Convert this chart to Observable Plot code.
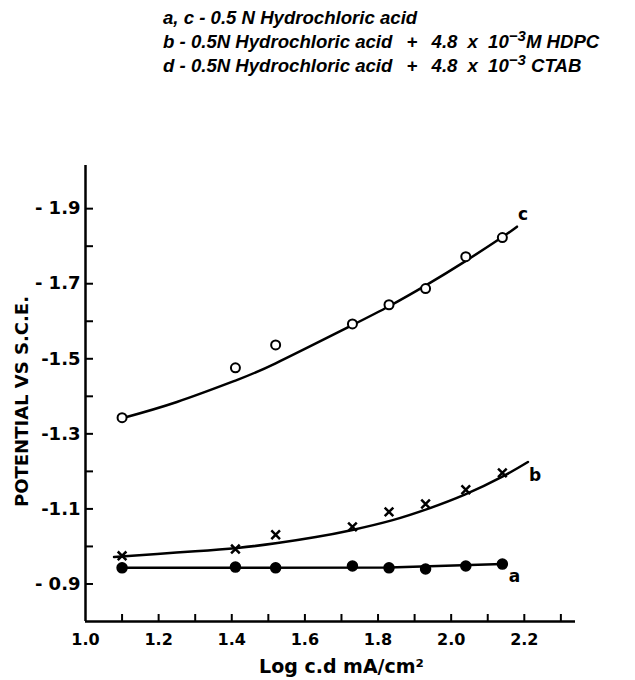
<!DOCTYPE html>
<html><head><meta charset="utf-8">
<script src="https://cdn.jsdelivr.net/npm/d3@7"></script>
<script src="https://cdn.jsdelivr.net/npm/@observablehq/plot@0.6"></script>
<style>
body{margin:0;background:#fff;width:635px;height:680px;overflow:hidden;font-family:"Liberation Sans",Arial,sans-serif;}
#header{height:90px;box-sizing:border-box;padding:6px 0 0 163px;font-style:italic;font-weight:bold;font-size:18.6px;line-height:24px;color:#000;white-space:nowrap;}
#header sup{font-size:15px;line-height:0;vertical-align:7px;}
#header .op{margin:0 9px;}
#header .x{margin:0 5px;}
#chart svg{display:block;}
g[aria-label="y-title"] text{letter-spacing:0.6px;}
g[aria-label="x-title"] text{letter-spacing:1.2px;}
</style></head><body>
<div id="header">
<div>a, c - 0.5 N Hydrochloric acid</div>
<div>b - 0.5N Hydrochloric acid <span class="op">+</span> 4.8 <span class="x">x</span> 10<sup>−3</sup>M HDPC</div>
<div>d - 0.5N Hydrochloric acid <span class="op">+</span> 4.8 <span class="x">x</span> 10<sup>−3</sup> CTAB</div>
</div>
<div id="chart"></div>
<script>
// measured points (log current density vs potential)
const logCd = [1.10, 1.41, 1.52, 1.73, 1.83, 1.93, 2.04, 2.14];
const potentialA = [-0.943, -0.945, -0.943, -0.948, -0.943, -0.940, -0.948, -0.953];
const potentialB = [-0.975, -0.993, -1.031, -1.052, -1.092, -1.113, -1.151, -1.196];
const potentialC = [-1.343, -1.476, -1.537, -1.593, -1.644, -1.687, -1.772, -1.823];
// hand-drawn curves
const curveAx = [1.10, 1.83, 2.14];
const curveAy = [-0.943, -0.944, -0.953];
const curveBx = [1.078, 1.196, 1.30, 1.415, 1.525, 1.63, 1.73, 1.84, 1.936, 2.037, 2.14, 2.21];
const curveBy = [-0.972, -0.980, -0.987, -0.996, -1.009, -1.025, -1.044, -1.070, -1.100, -1.138, -1.186, -1.225];
const curveCx = [1.105, 1.25, 1.41, 1.52, 1.72, 1.83, 1.933, 2.037, 2.138, 2.18];
const curveCy = [-1.343, -1.385, -1.442, -1.488, -1.585, -1.640, -1.697, -1.759, -1.823, -1.852];
const curveNames = ["a", "b", "c"];
// axes
const xTickValues = [1.0, 1.2, 1.4, 1.6, 1.8, 2.0, 2.2];
const xTickLabels = ["1.0", "1.2", "1.4", "1.6", "1.8", "2.0", "2.2"];
const xMinorTicks = [1.1, 1.2, 1.3, 1.4, 1.5, 1.6, 1.7, 1.8, 1.9, 2.0, 2.1, 2.2, 2.3];
const yTickValues = [-0.9, -1.1, -1.3, -1.5, -1.7, -1.9];
const yTickLabels = ["- 0.9", "-1.1", "-1.3", "-1.5", "- 1.7", "- 1.9"];
const yMinorTicks = [-0.9, -1.0, -1.1, -1.2, -1.3, -1.4, -1.5, -1.6, -1.7, -1.8, -1.9];
const xDomain = [1.0, 2.34];
const yDomain = [-0.8, -2.015];
const xTitle = "Log c.d mA/cm²";
const yTitle = "POTENTIAL VS S.C.E.";

const W = 635, H = 590, mL = 85, mR = 60, mT = 75, mB = 59;
const pw = W - mL - mR, ph = H - mT - mB;
const pts = (xs, ys, s) => xs.map((x, i) => ({x, y: ys[i], s}));
const ptsA = pts(logCd, potentialA, "a");
const ptsB = pts(logCd, potentialB, "b");
const ptsC = pts(logCd, potentialC, "c");
const curves = [pts(curveAx, curveAy, "a"), pts(curveBx, curveBy, "b"), pts(curveCx, curveCy, "c")];
const ends = [
  {...ptsA[ptsA.length - 1], name: curveNames[0]},
  {...curves[1][curves[1].length - 1], name: curveNames[1]},
  {...curves[2][curves[2].length - 1], name: curveNames[2]}
];

const chart = Plot.plot({
  width: W, height: H,
  marginLeft: mL, marginRight: mR, marginTop: mT, marginBottom: mB,
  style: {fontFamily: "'DejaVu Sans', sans-serif", fontWeight: "bold", fontSize: "15px", color: "#000", background: "#fff"},
  x: {domain: xDomain},
  y: {domain: yDomain},
  marks: [
    Plot.axisY(yTickValues, {tickSize: 0, tickPadding: 5, fontSize: 18,
      tickFormat: d => yTickLabels[yTickValues.indexOf(d)], label: null}),
    Plot.axisX(xTickValues, {tickSize: 0, tickPadding: 12, fontSize: 16,
      tickFormat: d => xTickLabels[xTickValues.indexOf(d)], label: null}),
    Plot.text([yTitle], {frameAnchor: "left", textAnchor: "middle", lineAnchor: "middle", rotate: -90, dx: -63, dy: 8, fontSize: 18, fill: "#000", ariaLabel: "y-title"}),
    Plot.text([xTitle], {frameAnchor: "bottom", textAnchor: "middle", lineAnchor: "bottom", dx: 11, dy: 51, fontSize: 19, fill: "#000", ariaLabel: "x-title"}),
    Plot.tickY(yMinorTicks, {y: d => d, insetRight: pw - 8, strokeWidth: 2, stroke: "#000"}),
    Plot.tickX(xMinorTicks, {x: d => d, insetTop: ph - 7, strokeWidth: 2, stroke: "#000"}),
    Plot.ruleX([xDomain[0]], {strokeWidth: 2.5, stroke: "#000"}),
    Plot.ruleY([yDomain[0]], {strokeWidth: 2.5, stroke: "#000"}),
    Plot.line(curves[0], {x: "x", y: "y", stroke: "#000", strokeWidth: 2.5}),
    Plot.line(curves[1], {x: "x", y: "y", stroke: "#000", strokeWidth: 2.5, curve: "natural"}),
    Plot.line(curves[2], {x: "x", y: "y", stroke: "#000", strokeWidth: 2.5, curve: "natural"}),
    Plot.dot(ptsA, {x: "x", y: "y", r: 5, fill: "#000", stroke: "#000"}),
    Plot.dot(ptsB, {x: "x", y: "y", r: 4, symbol: "times", stroke: "#000", strokeWidth: 2.5}),
    Plot.dot(ptsC, {x: "x", y: "y", r: 4.5, fill: "#fff", stroke: "#000", strokeWidth: 2}),
    Plot.text([ends[0]], {x: "x", y: "y", text: "name", dx: 12, dy: 12, fontSize: 17, fill: "#000"}),
    Plot.text([ends[1]], {x: "x", y: "y", text: "name", dx: 7, dy: 14, fontSize: 17, fill: "#000"}),
    Plot.text([ends[2]], {x: "x", y: "y", text: "name", dx: 6, dy: -12, fontSize: 17, fill: "#000"})
  ]
});
document.getElementById("chart").appendChild(chart);
</script>
</body></html>
